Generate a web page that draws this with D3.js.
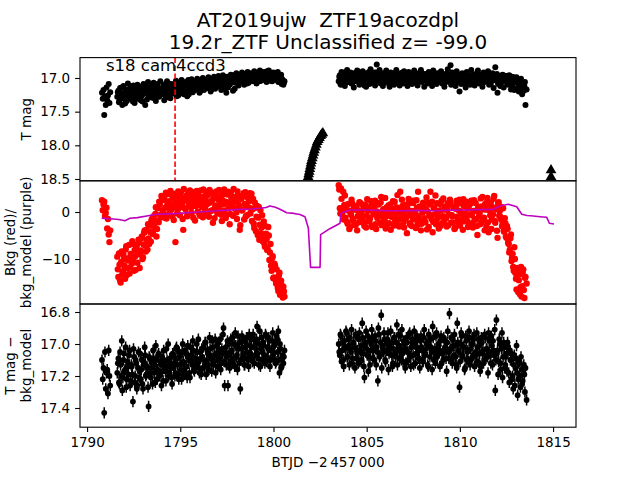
<!DOCTYPE html>
<html><head><meta charset="utf-8">
<script src="https://cdn.jsdelivr.net/npm/d3@7"></script>
<style>body{margin:0;background:#fff}svg{display:block}text{font-family:"DejaVu Sans",sans-serif;fill:#000;white-space:pre}</style>
</head><body><svg id="c" width="640" height="480"></svg>
<script>
// ---------------- DATA ----------------
const titleLines = ["AT2019ujw  ZTF19acozdpl", "19.2r_ZTF Unclassified z= -99.0"];
const sectorLabel = "s18 cam4ccd3";
const sectorLineT = 1794.72;
const xTicks = [1790, 1795, 1800, 1805, 1810, 1815];
const magTicks = [17.0, 17.5, 18.0, 18.5];
const bkgTicks = [0, -10];
const corrTicks = [16.8, 17.0, 17.2, 17.4];
const magErr = 0.035;

// orbit 1, first short chunk
const t1a = [1790.80,1790.84,1790.88,1790.92,1790.96,1791.00,1791.04,1791.08,1791.12,1791.16,1791.20,1791.24];
const mag1a = [17.22,17.31,17.18,17.55,17.27,17.40,17.14,17.33,17.26,17.09,17.37,17.21];
const bkg1a = [2.5,0.4,1.6,2.2,-0.8,-0.2,0.9,-3.5,-1.5,-4.8,-6.4,-3.9];
const corr1a = [17.10,17.22,17.15,17.43,17.05,17.28,17.18,17.16,17.31,17.04,17.20,17.26];

// orbit 1 main (cadence set A)
const t1b = [1791.62,1791.68,1791.74,1791.80,1791.86,1791.92,1791.98,1792.04,1792.10,1792.16,
1792.22,1792.28,1792.34,1792.40,1792.46,1792.52,1792.58,1792.64,1792.70,1792.76,
1792.82,1792.88,1792.94,1793.00,1793.06,1793.12,1793.18,1793.24,1793.30,1793.36,
1793.42,1793.48,1793.54,1793.60,1793.66,1793.72,1793.78,1793.84,1793.90,1793.96,
1794.02,1794.08,1794.14,1794.20,1794.26,1794.32,1794.38,1794.44,1794.50,1794.56,
1794.62,1794.68,1794.74,1794.80,1794.86,1794.92,1794.98,1795.04,1795.10,1795.16,
1795.22,1795.28,1795.34,1795.40,1795.46,1795.52,1795.58,1795.64,1795.70,1795.76,
1795.82,1795.88,1795.94,1796.00,1796.06,1796.12,1796.18,1796.24,1796.30,1796.36,
1796.42,1796.48,1796.54,1796.60,1796.66,1796.72,1796.78,1796.84,1796.90,1796.96,
1797.02,1797.08,1797.14,1797.20,1797.26,1797.32,1797.38,1797.44,1797.50,1797.56,
1797.62,1797.68,1797.74,1797.80,1797.86,1797.92,1797.98,1798.04,1798.10,1798.16,
1798.22,1798.28,1798.34,1798.40,1798.46,1798.52,1798.58,1798.64,1798.70,1798.76,
1798.82,1798.88,1798.94,1799.00,1799.06,1799.12,1799.18,1799.24,1799.30,1799.36,
1799.42,1799.48,1799.54,1799.60,1799.66,1799.72,1799.78,1799.84,1799.90,1799.96,
1800.02,1800.08,1800.14,1800.20,1800.26,1800.32,1800.38,1800.44,1800.50,1800.56];
const mag1b = [17.28,17.19,17.33,17.22,17.14,17.30,17.25,17.38,17.17,17.24,
17.31,17.20,17.12,17.27,17.35,17.18,17.23,17.29,17.10,17.26,
17.21,17.33,17.15,17.24,17.19,17.40,17.13,17.22,17.28,17.16,
17.25,17.11,17.20,17.30,17.14,17.22,17.09,17.27,17.18,17.24,
17.15,17.21,17.33,17.12,17.19,17.26,17.08,17.17,17.23,17.14,
17.20,17.10,17.16,17.27,17.07,17.18,17.13,17.22,17.09,17.15,
17.19,17.06,17.14,17.11,17.24,17.08,17.16,17.12,17.05,17.18,
17.10,17.15,17.04,17.13,17.20,17.07,17.11,17.02,17.16,17.09,
17.06,17.13,17.03,17.10,17.17,17.04,17.08,17.01,17.12,17.06,
17.09,17.00,17.05,17.18,17.03,17.10,16.99,17.06,17.02,17.14,
17.04,16.98,17.07,17.01,16.96,17.16,17.03,16.99,17.05,16.97,
17.02,16.95,17.06,16.99,17.03,16.94,17.08,16.98,17.01,16.93,
17.00,16.96,17.04,16.92,16.99,17.02,16.95,17.05,16.97,16.91,
16.99,16.94,17.03,16.96,16.90,17.00,16.97,17.04,16.93,16.98,
16.95,17.01,16.97,16.93,17.06,17.02,16.98,17.09,17.04,17.07];
const bkg1b = [-9.5,-13.8,-11.2,-15.0,-8.4,-12.6,
-10.1,-14.2,-7.3,-12.0,-9.8,
-13.1,-8.9,-11.0,-6.8,-12.5,
-9.4,-7.6,-10.8,-5.9,-11.9,
-8.2,-5.2,-9.6,-4.4,-7.1,
-3.8,-8.0,-5.6,-2.9,-6.3,
-1.5,-4.7,-3.0,-0.4,-5.2,
0.8,-2.2,1.6,-1.1,2.5,
-0.3,3.1,0.9,-1.4,2.0,
3.8,0.2,1.5,-0.9,2.8,
1.1,-6.4,3.3,0.5,2.1,
-0.7,4.2,1.7,-3.8,2.4,
0.6,3.5,-0.5,1.9,4.6,
0.9,2.6,-1.2,3.9,1.3,
4.5,0.1,2.2,-0.8,3.0,
1.0,4.8,-0.2,2.7,1.6,
3.6,-1.0,2.0,4.1,0.4,
2.9,-1.3,1.4,3.3,0.7,
4.7,1.8,-0.6,2.5,3.8,
0.3,-1.3,2.1,4.3,1.2,
-0.4,3.0,1.5,4.9,0.8,
2.4,-1.5,3.6,1.1,-2.8,
2.9,0.5,4.0,1.7,-0.9,
3.2,1.0,2.3,-0.3,3.9,
0.6,-2.5,2.0,-4.1,1.3,
-1.2,-5.9,0.4,-3.3,-6.2,
-2.0,-7.4,-4.6,-8.1,-3.2,
-10.2,-6.8,-12.5,-9.4,-13.9,
-11.3,-15.2,-14.0,-16.8,-12.9,
-17.5,-15.6,-18.2,-16.9];
const corr1b = [17.18,17.09,17.25,17.13,16.98,17.21,17.06,17.16,17.27,17.11,
17.19,17.04,17.23,17.14,17.36,17.08,17.20,17.12,17.26,17.05,
17.17,17.22,17.10,17.28,17.13,17.07,17.19,17.15,17.39,17.09,
17.21,17.12,17.04,17.18,17.24,17.10,17.16,17.06,17.20,17.13,
17.08,17.23,17.11,17.17,17.03,17.14,17.20,17.09,17.15,17.25,
17.07,17.12,17.18,17.02,17.13,17.22,17.08,17.16,17.05,17.11,
17.19,17.06,17.14,17.01,17.10,17.21,17.07,17.13,17.04,17.17,
17.09,17.00,17.12,17.15,17.05,17.19,17.08,17.02,17.14,16.99,
17.11,17.06,17.16,17.03,17.09,16.98,17.13,17.07,17.18,17.01,
17.10,17.04,16.97,17.12,17.06,16.90,17.26,17.02,17.08,17.26,
17.00,17.11,17.05,16.96,17.09,17.14,17.01,17.07,16.95,17.12,
17.28,17.03,16.98,17.08,17.13,16.99,17.05,17.10,16.94,17.06,
17.02,17.11,16.97,17.07,17.03,16.89,17.09,17.00,17.14,16.96,
17.05,17.01,17.12,16.95,17.08,17.03,16.98,17.10,17.04,16.93,
17.06,17.00,17.11,16.97,16.92,17.18,17.03,17.14,17.07,17.08];

// orbit 1 main (cadence set B)
const t1c = [1791.65,1791.71,1791.77,1791.83,1791.89,1791.95,1792.01,1792.07,1792.13,1792.19,
1792.25,1792.31,1792.37,1792.43,1792.49,1792.55,1792.61,1792.67,1792.73,1792.79,
1792.85,1792.91,1792.97,1793.03,1793.09,1793.15,1793.21,1793.27,1793.33,1793.39,
1793.45,1793.51,1793.57,1793.63,1793.69,1793.75,1793.81,1793.87,1793.93,1793.99,
1794.05,1794.11,1794.17,1794.23,1794.29,1794.35,1794.41,1794.47,1794.53,1794.59,
1794.65,1794.71,1794.77,1794.83,1794.89,1794.95,1795.01,1795.07,1795.13,1795.19,
1795.25,1795.31,1795.37,1795.43,1795.49,1795.55,1795.61,1795.67,1795.73,1795.79,
1795.85,1795.91,1795.97,1796.03,1796.09,1796.15,1796.21,1796.27,1796.33,1796.39,
1796.45,1796.51,1796.57,1796.63,1796.69,1796.75,1796.81,1796.87,1796.93,1796.99,
1797.05,1797.11,1797.17,1797.23,1797.29,1797.35,1797.41,1797.47,1797.53,1797.59,
1797.65,1797.71,1797.77,1797.83,1797.89,1797.95,1798.01,1798.07,1798.13,1798.19,
1798.25,1798.31,1798.37,1798.43,1798.49,1798.55,1798.61,1798.67,1798.73,1798.79,
1798.85,1798.91,1798.97,1799.03,1799.09,1799.15,1799.21,1799.27,1799.33,1799.39,
1799.45,1799.51,1799.57,1799.63,1799.69,1799.75,1799.81,1799.87,1799.93,1799.99,
1800.05,1800.11,1800.17,1800.23,1800.29,1800.35,1800.41,1800.47,1800.53,1800.59];
const mag1c = [17.21,17.36,17.15,17.29,17.40,17.12,17.27,17.19,17.34,17.08,
17.25,17.16,17.30,17.21,17.11,17.37,17.24,17.14,17.31,17.20,
17.13,17.27,17.35,17.09,17.22,17.17,17.32,17.06,17.25,17.19,
17.29,17.14,17.07,17.23,17.34,17.12,17.20,17.28,17.05,17.16,
17.24,17.10,17.19,17.29,17.05,17.21,17.14,17.30,17.09,17.18,
17.11,17.23,17.04,17.17,17.26,17.10,17.20,17.03,17.14,17.24,
17.08,17.17,17.27,17.03,17.12,17.19,17.02,17.21,17.10,17.07,
17.17,17.01,17.12,17.22,17.06,17.14,17.00,17.18,17.05,17.11,
17.15,16.99,17.09,17.20,17.02,17.12,16.98,17.16,17.04,17.10,
16.97,17.13,17.03,17.08,16.96,17.15,17.01,17.22,16.98,17.06,
17.10,16.95,17.03,17.19,16.97,17.07,16.93,17.02,17.11,16.96,
17.06,16.92,17.00,17.10,16.95,17.04,16.91,17.07,16.97,17.02,
16.94,17.05,16.90,16.99,17.08,16.93,17.01,16.89,17.04,16.96,
17.02,16.91,16.98,17.06,16.94,16.89,17.01,16.95,17.05,16.92,
17.00,16.96,17.03,16.91,16.99,17.04,16.95,17.02,17.10,17.05];
const bkg1c = [-12.2,-8.8,-14.5,-10.6,-13.2,-9.1,
-11.5,-8.0,-13.4,-10.3,-7.0,
-11.8,-9.9,-6.2,-10.5,-8.1,
-12.3,-7.0,-9.0,-6.5,-8.7,
-5.6,-10.0,-6.9,-3.9,-8.4,
-5.9,-2.6,-6.8,-4.3,-1.9,
-4.1,-0.9,-2.4,1.0,-3.6,
-1.8,2.2,-0.6,3.4,0.4,
2.6,-1.2,4.1,1.3,-0.5,
2.3,4.5,0.6,3.0,-1.7,
3.9,1.8,-0.3,4.4,2.5,
1.0,3.1,-1.5,4.9,0.8,
2.7,-0.9,4.0,1.4,3.3,
-0.2,4.2,1.7,-1.8,2.9,
1.5,3.6,-0.4,4.6,2.0,
-1.1,3.3,0.7,4.3,-0.6,
1.9,4.7,0.2,2.4,-2.3,
3.9,1.1,4.4,-0.3,2.6,
0.5,3.4,-1.9,1.6,4.8,
2.2,-0.7,3.7,0.9,-2.6,
4.1,1.9,-0.8,3.2,2.5,
-0.1,4.4,1.6,-3.8,2.8,
0.3,3.5,-1.6,4.2,1.2,
-0.6,2.7,4.0,0.8,-1.9,
2.8,-3.4,0.9,-1.0,-4.9,
1.1,-2.7,-4.5,-0.7,-5.3,
-6.7,-3.0,-5.8,-7.9,-5.0,
-8.6,-11.4,-9.8,-14.1,-11.0,
-14.4,-12.2,-16.1,-13.5,-17.6,
-14.6,-17.0,-15.9,-18.0];
const corr1c = [17.12,17.24,17.05,17.20,17.29,17.10,17.17,17.02,17.22,17.14,
17.07,17.26,17.13,17.19,17.03,17.24,17.10,17.28,17.15,17.21,
17.06,17.16,17.25,17.11,17.02,17.20,17.14,17.27,17.08,17.18,
17.15,17.25,17.09,17.13,17.01,17.22,17.07,17.19,17.11,17.26,
17.17,17.04,17.14,17.23,17.10,17.00,17.18,17.12,17.21,17.06,
17.15,17.20,17.03,17.09,17.19,17.05,17.13,17.22,17.00,17.17,
17.04,17.14,17.21,17.08,17.18,17.02,17.11,16.98,17.16,17.09,
17.13,17.05,16.97,17.18,17.09,17.03,17.15,17.10,16.99,17.19,
17.04,17.13,16.96,17.08,17.17,17.02,17.11,16.97,17.06,17.14,
16.99,17.09,17.16,17.03,16.94,17.11,17.05,17.13,16.98,17.07,
17.15,16.97,17.04,17.12,17.00,16.93,17.08,17.16,17.03,16.99,
17.10,16.95,17.06,17.13,17.02,16.96,17.09,17.14,17.01,16.97,
17.08,16.94,17.12,17.00,16.97,17.06,17.13,16.92,17.03,17.10,
16.99,17.07,16.94,17.11,17.02,16.96,17.14,17.04,16.98,17.09,
17.01,17.12,16.95,17.05,17.10,17.00,17.15,17.09,17.12,17.04];

// orbit 2 (cadence set A)
const t2 = [1803.50,1803.56,1803.62,1803.68,1803.74,1803.80,1803.86,1803.92,1803.98,1804.04,
1804.10,1804.16,1804.22,1804.28,1804.34,1804.40,1804.46,1804.52,1804.58,1804.64,
1804.70,1804.76,1804.82,1804.88,1804.94,1805.00,1805.06,1805.12,1805.18,1805.24,
1805.30,1805.36,1805.42,1805.48,1805.54,1805.60,1805.66,1805.72,1805.78,1805.84,
1805.90,1805.96,1806.02,1806.08,1806.14,1806.20,1806.26,1806.32,1806.38,1806.44,
1806.50,1806.56,1806.62,1806.68,1806.74,1806.80,1806.86,1806.92,1806.98,1807.04,
1807.10,1807.16,1807.22,1807.28,1807.34,1807.40,1807.46,1807.52,1807.58,1807.64,
1807.70,1807.76,1807.82,1807.88,1807.94,1808.00,1808.06,1808.12,1808.18,1808.24,
1808.30,1808.36,1808.42,1808.48,1808.54,1808.60,1808.66,1808.72,1808.78,1808.84,
1808.90,1808.96,1809.02,1809.08,1809.14,1809.20,1809.26,1809.32,1809.38,1809.44,
1809.50,1809.56,1809.62,1809.68,1809.74,1809.80,1809.86,1809.92,1809.98,1810.04,
1810.10,1810.16,1810.22,1810.28,1810.34,1810.40,1810.46,1810.52,1810.58,1810.64,
1810.70,1810.76,1810.82,1810.88,1810.94,1811.00,1811.06,1811.12,1811.18,1811.24,
1811.30,1811.36,1811.42,1811.48,1811.54,1811.60,1811.66,1811.72,1811.78,1811.84,
1811.90,1811.96,1812.02,1812.08,1812.14,1812.20,1812.26,1812.32,1812.38,1812.44,
1812.50,1812.56,1812.62,1812.68,1812.74,1812.80,1812.86,1812.92,1812.98,1813.04,
1813.10,1813.16,1813.22,1813.28,1813.34,1813.40,1813.46,1813.52,1813.58];
const mag2 = [17.05,16.96,17.10,16.99,17.02,16.92,17.07,16.98,17.01,16.94,
17.04,16.97,17.08,16.93,17.00,16.96,17.03,16.90,17.06,16.99,
16.95,17.02,16.98,17.11,16.94,17.01,16.97,16.91,17.05,16.99,
16.96,17.03,16.92,17.00,16.80,16.97,17.04,16.95,17.01,16.93,
17.07,16.98,17.02,16.94,17.00,16.97,17.09,16.96,17.03,16.99,
16.93,17.01,16.97,17.05,16.95,17.00,16.98,16.92,17.04,16.97,
17.02,16.94,17.00,16.96,17.06,16.99,16.93,17.03,16.97,17.01,
16.95,17.00,16.98,17.04,16.92,17.01,16.97,16.95,17.03,16.99,
16.96,17.02,16.94,17.00,16.97,17.05,16.93,17.01,16.98,17.04,
16.99,16.99,17.03,16.95,17.00,16.97,17.06,16.94,17.02,16.98,
16.81,16.97,17.01,16.97,17.04,16.93,17.00,16.98,17.20,16.95,
17.02,16.97,17.00,16.94,17.07,16.99,16.96,17.03,16.98,17.01,
16.95,17.04,16.98,17.01,16.93,17.06,16.99,16.97,17.03,16.96,
17.00,16.94,17.05,16.98,17.02,16.95,17.08,16.97,17.01,16.99,
16.84,17.04,17.22,16.97,17.02,16.99,17.06,16.96,17.03,17.00,
16.97,17.05,16.99,17.02,17.17,16.98,17.04,17.18,17.06,16.99,
17.03,17.20,17.05,17.01,17.24,17.08,17.12,17.40,17.17];
const bkg2 = [5.7,0.8,5.0,-0.5,4.3,1.5,
-1.2,1.4,-2.5,0.3,-3.2,-0.6,1.8,-1.9,0.5,-2.8,
1.1,-0.9,-2.2,2.0,-0.3,-1.6,0.7,-3.0,1.5,-0.8,
-2.0,0.9,-1.3,2.3,-3.2,-0.4,1.2,-2.6,0.1,-1.1,
1.9,-2.3,3.2,-0.7,0.6,-1.8,-3.5,1.0,-0.2,-2.4,
1.6,-1.0,0.3,-2.9,2.2,-0.5,-1.7,0.8,-3.1,4.3,
-0.9,1.3,-2.1,0.4,-1.4,-4.5,1.7,-0.6,-2.7,0.2,
-1.2,2.4,-0.3,-3.4,0.9,4.3,-1.8,1.1,-2.5,-0.1,
1.5,-2.0,0.6,-3.7,2.0,-0.8,4.3,-1.5,-4.3,0.8,
-0.5,-2.6,1.9,-1.1,0.3,-3.0,2.4,-0.9,-2.0,1.2,
-1.4,0.5,-2.8,1.6,2.1,-0.6,-2.2,0.9,-3.4,1.4,
-1.0,-2.5,2.6,0.1,-1.7,-3.8,1.3,-0.4,2.2,-1.9,
0.7,-2.9,1.8,-0.7,-3.3,2.5,0.2,-1.5,-4.9,1.0,
-0.3,2.9,-2.1,0.6,-1.2,1.7,-3.0,3.0,-4.3,0.4,
2.0,-1.6,-0.5,3.4,-2.3,0.9,-5.5,2.1,
0.2,-1.5,-3.0,0.8,-4.2,-2.4,-5.5,-3.6,-6.8,-8.0,-4.8,-9.6,
-11.7,-7.5,-13.0,-16.5,-11.9,-14.5,-17.5,-11.7,-15.8,-12.2,-18.3,-13.8,-15.2];
const corr2 = [17.00,17.07,16.95,17.04,17.10,16.98,17.03,16.93,17.08,17.01,
16.96,17.05,17.12,16.99,17.02,16.94,17.09,17.04,16.97,17.11,
17.01,16.87,17.06,17.21,16.99,17.03,16.95,17.08,17.13,17.00,
16.96,17.04,17.10,16.98,17.02,17.23,16.94,17.07,16.82,17.01,
17.05,16.97,17.11,17.00,16.93,17.06,17.02,16.99,17.14,17.03,
16.96,17.08,16.88,17.04,17.01,16.95,17.10,17.06,16.98,17.03,
17.12,16.99,17.05,16.94,17.08,17.02,16.97,17.13,17.00,17.06,
16.95,17.04,17.09,16.98,17.02,17.11,16.96,17.07,17.03,16.99,
17.14,17.01,16.97,17.05,16.89,17.10,17.03,16.95,17.08,17.00,
17.04,16.98,17.12,17.06,16.96,17.02,17.09,16.99,17.05,16.81,
17.03,17.10,16.97,17.07,17.01,17.13,16.87,17.04,17.27,17.00,
16.95,17.08,17.02,17.15,16.98,17.05,17.11,16.96,17.03,17.09,
17.00,16.94,17.07,17.12,17.02,16.97,17.06,17.14,16.99,17.04,
17.10,16.96,17.03,17.08,16.93,17.05,17.12,17.01,16.98,17.07,
17.29,16.85,17.04,17.11,17.00,17.16,16.93,17.08,17.02,17.13,
17.06,16.99,17.18,17.04,17.10,17.22,17.28,17.07,17.15,17.01,
17.32,17.12,17.20,17.08,17.25,17.14,17.19,17.15,17.35];

// orbit 2 (cadence set B)
const t2c = [1803.53,1803.59,1803.65,1803.71,1803.77,1803.83,1803.89,1803.95,1804.01,1804.07,
1804.13,1804.19,1804.25,1804.31,1804.37,1804.43,1804.49,1804.55,1804.61,1804.67,
1804.73,1804.79,1804.85,1804.91,1804.97,1805.03,1805.09,1805.15,1805.21,1805.27,
1805.33,1805.39,1805.45,1805.51,1805.57,1805.63,1805.69,1805.75,1805.81,1805.87,
1805.93,1805.99,1806.05,1806.11,1806.17,1806.23,1806.29,1806.35,1806.41,1806.47,
1806.53,1806.59,1806.65,1806.71,1806.77,1806.83,1806.89,1806.95,1807.01,1807.07,
1807.13,1807.19,1807.25,1807.31,1807.37,1807.43,1807.49,1807.55,1807.61,1807.67,
1807.73,1807.79,1807.85,1807.91,1807.97,1808.03,1808.09,1808.15,1808.21,1808.27,
1808.33,1808.39,1808.45,1808.51,1808.57,1808.63,1808.69,1808.75,1808.81,1808.87,
1808.93,1808.99,1809.05,1809.11,1809.17,1809.23,1809.29,1809.35,1809.41,1809.47,
1809.53,1809.59,1809.65,1809.71,1809.77,1809.83,1809.89,1809.95,1810.01,1810.07,
1810.13,1810.19,1810.25,1810.31,1810.37,1810.43,1810.49,1810.55,1810.61,1810.67,
1810.73,1810.79,1810.85,1810.91,1810.97,1811.03,1811.09,1811.15,1811.21,1811.27,
1811.33,1811.39,1811.45,1811.51,1811.57,1811.63,1811.69,1811.75,1811.81,1811.87,
1811.93,1811.99,1812.05,1812.11,1812.17,1812.23,1812.29,1812.35,1812.41,1812.47,
1812.53,1812.59,1812.65,1812.71,1812.77,1812.83,1812.89,1812.95,1813.01,1813.07,
1813.13,1813.19,1813.25,1813.31,1813.37,1813.43,1813.49];
const mag2c = [16.98,17.09,16.91,17.03,16.95,17.12,16.99,16.88,17.06,17.00,
16.92,17.08,16.97,17.14,16.94,17.05,16.89,17.02,17.10,16.96,
17.04,16.90,17.07,16.99,17.13,16.93,17.03,17.09,16.87,17.01,
17.06,16.95,17.11,16.92,17.04,16.98,16.88,17.08,16.97,17.12,
16.94,17.02,16.89,17.07,16.99,17.13,16.92,17.04,16.96,17.10,
17.01,16.88,17.06,16.97,17.11,16.93,17.03,17.08,16.90,17.05,
16.98,17.12,16.91,17.04,16.95,17.09,17.01,16.89,17.07,16.96,
17.11,16.93,17.03,16.88,17.06,16.99,17.13,16.94,17.02,17.08,
16.91,17.05,16.97,17.12,16.89,17.03,16.99,17.09,16.93,17.06,
17.02,16.90,17.08,16.96,17.13,16.94,17.01,16.87,17.05,16.99,
17.10,16.92,17.04,16.97,17.12,16.90,17.06,16.95,17.03,17.09,
16.93,17.07,16.98,17.14,16.91,17.02,16.96,17.10,16.88,17.05,
16.99,17.11,16.94,17.04,16.89,17.08,17.00,16.95,17.13,16.92,
17.06,16.97,17.02,16.90,17.10,16.96,17.04,16.93,17.15,16.99,
17.03,16.94,17.09,16.98,17.12,17.01,16.95,17.14,16.97,17.06,
17.00,17.10,16.96,17.08,17.03,17.13,16.99,17.05,17.16,17.02,
17.09,17.04,17.14,17.07,17.11,17.19,17.06];
const bkg2c = [4.8,-0.3,2.8,0.9,-1.6,3.5,
0.4,-2.1,1.7,-3.6,-0.2,2.6,-1.4,0.9,-2.7,1.3,
-3.9,0.2,2.1,-1.5,-0.8,1.6,-2.4,0.5,-3.3,2.7,
0.3,-1.9,1.1,-2.9,0.8,-0.5,2.4,-3.6,-1.3,1.6,
-0.6,2.0,-2.8,0.4,-1.5,3.0,-0.9,-2.6,1.4,-0.3,
-3.8,0.7,2.3,-1.2,-2.0,1.0,3.6,-2.8,0.2,-1.5,
2.6,-0.4,-3.3,1.5,-1.0,0.6,2.8,-2.4,-0.1,-3.0,
1.9,-1.6,0.3,2.5,-2.7,-0.8,1.2,-3.9,0.6,2.0,
-1.3,-2.2,3.1,0.1,-3.2,1.6,-0.7,2.2,-2.1,0.9,
3.5,-1.8,-0.2,-3.5,1.7,0.4,-2.4,2.9,-1.0,0.5,
-3.1,1.9,-0.5,2.6,-2.3,-0.9,1.0,-3.6,0.7,2.4,
-1.6,0.3,-2.9,1.8,-0.4,2.7,-2.0,-1.2,0.9,-3.2,
1.4,-0.6,2.4,-2.4,0.2,-1.7,1.9,-3.0,0.8,-0.9,
-2.6,1.2,3.2,-1.4,-3.9,0.5,2.1,-2.2,1.6,-0.7,
-3.6,1.0,2.8,-1.9,0.6,-4.0,1.9,-0.8,
-1.0,1.1,-2.2,-4.0,-1.3,-5.2,-3.0,-6.5,-8.6,-5.6,-10.4,-8.9,
-12.5,-10.0,-14.2,-12.8,-17.0,-13.3,-16.0,-18.0,-12.9,-16.6,-14.0];
const corr2c = [17.05,16.94,17.11,16.99,17.14,17.02,16.92,17.08,16.97,17.13,
17.03,16.91,17.09,17.00,17.15,16.95,17.06,17.12,16.93,17.04,
17.10,16.96,17.14,17.01,16.92,17.07,17.17,16.98,17.04,16.91,
17.09,17.02,16.95,17.13,17.05,16.90,17.08,16.99,17.15,17.03,
16.93,17.10,17.04,16.97,17.16,17.01,16.92,17.07,17.12,16.96,
17.06,16.99,17.13,16.94,17.09,17.03,16.91,17.11,17.00,17.15,
16.96,17.05,17.10,16.93,17.14,16.99,17.07,16.92,17.12,17.02,
16.97,17.09,17.15,16.95,17.04,17.11,16.91,17.06,17.00,17.13,
16.94,17.08,17.02,17.16,16.96,17.05,17.12,16.93,17.07,17.01,
17.14,16.95,17.06,17.10,16.98,17.03,17.17,16.92,17.09,17.04,
16.96,17.12,17.01,16.94,17.08,17.15,16.99,17.05,17.11,16.93,
17.07,17.02,17.16,16.95,17.10,17.04,16.92,17.13,17.00,17.08,
16.97,17.14,17.05,16.93,17.11,17.01,17.17,16.96,17.06,17.12,
16.94,17.09,17.03,17.18,16.98,17.07,16.95,17.13,17.04,16.91,
17.10,17.06,17.19,16.97,17.12,17.03,17.21,16.99,17.15,17.08,
17.17,17.02,17.24,17.10,17.06,17.20,17.13,17.26,17.09,17.18,
17.22,17.11,17.27,17.16,17.23,17.13,17.30];

// background model (purple line)
const modelT = [1790.78,1791.10,1791.41,1791.70,1792.03,1792.30,1792.70,1793.20,1793.73,1794.30,1794.98,1795.80,1796.77,1797.50,1798.20,1798.80,1799.28,1799.60,1799.81,1800.10,1800.35,1800.71,1801.10,1801.42,1801.69,1801.87,1801.99,1802.50,1802.53,1803.00,1803.57,1803.62,1804.10,1805.00,1806.00,1806.79,1807.70,1808.57,1809.50,1810.37,1811.10,1811.79,1812.15,1812.60,1813.05,1813.32,1813.60,1813.94,1814.30,1814.66,1814.80,1815.05];
const modelV = [-1.34,-1.40,-1.49,-1.60,-1.85,-1.34,-1.20,-0.85,-0.49,-0.40,-0.28,-0.05,0.21,0.40,0.57,0.65,0.79,0.95,1.28,1.00,0.57,-0.15,-0.30,-0.53,-1.00,-3.40,-11.77,-11.77,-4.80,-3.60,-2.40,-0.28,0.43,0.43,0.30,0.28,0.35,0.28,0.40,0.43,0.50,0.57,1.28,1.64,1.13,-0.49,-0.75,-0.85,-1.00,-1.13,-2.40,-2.55];

// ZTF points (triangles)
const ztfT = [1801.86,1801.89,1801.92,1801.95,1801.98,1802.01,1802.04,1802.08,1802.12,1802.16,1802.20,1802.25,1802.30,1802.35,1802.41,1802.47,1802.53,1802.59,1802.65,1814.89,1814.89];
const ztfMag = [18.47,18.43,18.39,18.35,18.31,18.27,18.23,18.19,18.15,18.11,18.07,18.03,17.99,17.95,17.92,17.89,17.86,17.84,17.82,18.47,18.37];

// ---------------- DRAW ----------------
const pts = (t, v) => t.map((d, i) => [d, v[i]]);
const magPts = [].concat(pts(t1a, mag1a), pts(t1b, mag1b), pts(t1c, mag1c), pts(t2, mag2), pts(t2c, mag2c));
const bkgPts = [].concat(pts(t1a, bkg1a), pts(t1b, bkg1b), pts(t1c, bkg1c), pts(t2, bkg2), pts(t2c, bkg2c));
const corrPts = [].concat(pts(t1a, corr1a), pts(t1b, corr1b), pts(t1c, corr1c), pts(t2, corr2), pts(t2c, corr2c));
const modelPts = pts(modelT, modelV);
const ztfPts = pts(ztfT, ztfMag);

const svg = d3.select('#c');
const L = 80, R = 576;
const P = [[57.6, 180.8], [180.8, 304], [304, 427.2]];
const FS = 13.5;
const x = d3.scaleLinear().domain([1789.62, 1816.23]).range([L, R]);
const y1 = d3.scaleLinear().domain([16.697, 18.527]).range(P[0]);
const y2 = d3.scaleLinear().domain([6.64, -19.57]).range(P[1]);
const y3 = d3.scaleLinear().domain([16.75, 17.52]).range(P[2]);

const defs = svg.append('defs');
P.forEach((p, i) => {
  defs.append('clipPath').attr('id', 'clip' + i).append('rect')
    .attr('x', L).attr('y', p[0]).attr('width', R - L).attr('height', p[1] - p[0]);
});
const g = P.map((p, i) => svg.append('g').attr('clip-path', `url(#clip${i})`));

// panel 1
g[0].selectAll('circle').data(magPts).join('circle')
  .attr('cx', d => x(d[0])).attr('cy', d => y1(d[1])).attr('r', 3).attr('fill', '#000');
const tri = d3.symbol().type(d3.symbolTriangle).size(50);
g[0].selectAll('path.tri').data(ztfPts).join('path').attr('class', 'tri')
  .attr('d', tri).attr('transform', d => `translate(${x(d[0])},${y1(d[1])})`).attr('fill', '#000');
g[0].append('line').attr('x1', x(sectorLineT)).attr('x2', x(sectorLineT))
  .attr('y1', P[0][0]).attr('y2', P[0][1])
  .attr('stroke', '#ff0000').attr('stroke-width', 1.6).attr('stroke-dasharray', '5.5,2.5');
svg.append('text').attr('x', 106).attr('y', 70.5).attr('font-size', 16.5).text(sectorLabel);

// panel 2
g[1].selectAll('circle').data(bkgPts).join('circle')
  .attr('cx', d => x(d[0])).attr('cy', d => y2(d[1])).attr('r', 3.2).attr('fill', '#ff0000');
g[1].append('path').datum(modelPts)
  .attr('d', d3.line().x(d => x(d[0])).y(d => y2(d[1])))
  .attr('fill', 'none').attr('stroke', '#bf00bf').attr('stroke-width', 1.6).attr('stroke-linejoin', 'round');

// panel 3
const eb = g[2].selectAll('g.eb').data(corrPts).join('g').attr('class', 'eb');
eb.append('line').attr('x1', d => x(d[0])).attr('x2', d => x(d[0]))
  .attr('y1', d => y3(d[1] - magErr)).attr('y2', d => y3(d[1] + magErr))
  .attr('stroke', '#000').attr('stroke-width', 1.5);
eb.append('circle').attr('cx', d => x(d[0])).attr('cy', d => y3(d[1])).attr('r', 2.9).attr('fill', '#000');

// frames
P.forEach(p => svg.append('rect').attr('x', L).attr('y', p[0]).attr('width', R - L).attr('height', p[1] - p[0])
  .attr('fill', 'none').attr('stroke', '#000').attr('stroke-width', 1.1));

function styleAxis(sel) {
  sel.select('.domain').remove();
  sel.selectAll('.tick line').attr('stroke', '#000').attr('stroke-width', 1.1);
  sel.selectAll('.tick text').attr('font-size', FS).attr('font-family', '"DejaVu Sans",sans-serif').attr('fill', '#000');
}
const minus = d => (d < 0 ? '\u2212' + Math.abs(d) : String(d));
svg.append('g').attr('transform', `translate(${L},0)`)
  .call(d3.axisLeft(y1).tickValues(magTicks).tickFormat(d3.format('.1f')).tickSize(4.9).tickPadding(4.9)).call(styleAxis);
svg.append('g').attr('transform', `translate(${L},0)`)
  .call(d3.axisLeft(y2).tickValues(bkgTicks).tickFormat(minus).tickSize(4.9).tickPadding(4.9)).call(styleAxis);
svg.append('g').attr('transform', `translate(${L},0)`)
  .call(d3.axisLeft(y3).tickValues(corrTicks).tickFormat(d3.format('.1f')).tickSize(4.9).tickPadding(4.9)).call(styleAxis);
svg.append('g').attr('transform', `translate(0,${P[2][1]})`)
  .call(d3.axisBottom(x).tickValues(xTicks).tickFormat(d3.format('d')).tickSize(4.9).tickPadding(4.9)).call(styleAxis);

// labels
const cx = (L + R) / 2;
svg.append('text').attr('x', cx).attr('y', 467).attr('text-anchor', 'middle').attr('font-size', FS)
  .text('BTJD \u22122\u2009457\u2009000');
function ylab(lines, yc) {
  const xs = lines.length === 1 ? [31] : [15, 31];
  lines.forEach((s, i) => {
    svg.append('text').attr('transform', `translate(${xs[i]},${yc}) rotate(-90)`)
      .attr('text-anchor', 'middle').attr('font-size', FS).text(s);
  });
}
ylab(['T mag'], (P[0][0] + P[0][1]) / 2);
ylab(['Bkg (red)/', 'bkg_model (purple)'], (P[1][0] + P[1][1]) / 2);
ylab(['T mag \u2212', 'bkg_model'], (P[2][0] + P[2][1]) / 2);

// title (one text element, two lines)
const title = svg.append('text').attr('x', cx).attr('y', 27).attr('text-anchor', 'middle').attr('font-size', 20);
title.append('tspan').attr('x', cx).attr('dy', 0).text(titleLines[0]);
title.append('tspan').attr('x', cx).attr('dy', 22).text(titleLines[1]);
</script></body></html>
